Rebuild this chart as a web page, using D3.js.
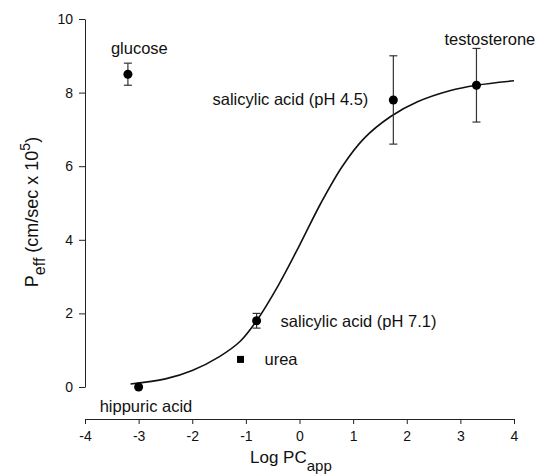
<!DOCTYPE html>
<html>
<head>
<meta charset="utf-8">
<script src="https://cdn.jsdelivr.net/npm/d3@7"></script>
<style>
  body { margin: 0; background: #fff; }
  text { font-family: "Liberation Sans", Arial, sans-serif; fill: #111; }
</style>
</head>
<body>
<div id="chart"></div>
<script>
var svgWidth = 549;
var svgHeight = 475;

// measured compounds: log PC_app, P_eff, error (+/-)
var names = ["glucose", "hippuric acid", "urea", "salicylic acid (pH 7.1)", "salicylic acid (pH 4.5)", "testosterone"];
var logPC = [-3.2, -3.0, -1.1, -0.8, 1.75, 3.3];
var peff = [8.5, 0.0, 0.75, 1.8, 7.8, 8.2];
var err = [0.3, 0, 0, 0.2, 1.2, 1.0];
var marker = ["circle", "circle", "square", "circle", "circle", "circle"];

// fitted curve
var curveX = [-3.15, -2.5, -2.0, -1.5, -1.1, -0.8, -0.4, 0.0, 0.4, 0.8, 1.2, 1.7, 2.2, 2.8, 3.3, 4.0];
var curveY = [0.08, 0.22, 0.45, 0.82, 1.25, 1.8, 2.75, 3.85, 5.0, 6.0, 6.75, 7.35, 7.75, 8.05, 8.2, 8.32];

var xTicks = [-4, -3, -2, -1, 0, 1, 2, 3, 4];
var yTicks = [0, 2, 4, 6, 8, 10];

var svg = d3.select("#chart")
  .append("svg")
  .attr("width", svgWidth)
  .attr("height", svgHeight);

var xScale = d3.scaleLinear().domain([-4, 4]).range([85, 514]);
var yScale = d3.scaleLinear().domain([0, 10]).range([387, 19]);

// axes
svg.append("g")
  .attr("transform", "translate(0,419)")
  .call(d3.axisBottom(xScale).tickValues(xTicks).tickSize(5).tickSizeOuter(0)
    .tickPadding(7).tickFormat(d => String(d)));

svg.append("g")
  .attr("transform", "translate(85,0)")
  .call(d3.axisLeft(yScale).tickValues(yTicks).tickSize(6).tickSizeOuter(0)
    .tickPadding(6).tickFormat(d => String(d)));

svg.selectAll(".tick text")
  .attr("font-size", "14px")
  .attr("font-family", "Liberation Sans, Arial, sans-serif")
  .attr("fill", "#111");
svg.selectAll(".domain, .tick line").attr("stroke", "#222");

// fitted curve
var pts = curveX.map((x, i) => [x, curveY[i]]);
svg.append("path")
  .datum(pts)
  .attr("fill", "none")
  .attr("stroke", "#111")
  .attr("stroke-width", 1.6)
  .attr("d", d3.line().x(d => xScale(d[0])).y(d => yScale(d[1])).curve(d3.curveCatmullRom.alpha(0.5)));

var data = names.map((n, i) => ({ name: n, x: logPC[i], y: peff[i], e: err[i], m: marker[i] }));

// error bars
var bars = svg.selectAll(".err")
  .data(data.filter(d => d.e > 0))
  .enter()
  .append("g")
  .attr("stroke", "#333")
  .attr("stroke-width", 1.2);

bars.append("line")
  .attr("x1", d => xScale(d.x)).attr("x2", d => xScale(d.x))
  .attr("y1", d => yScale(d.y - d.e)).attr("y2", d => yScale(d.y + d.e));
bars.append("line")
  .attr("x1", d => xScale(d.x) - 4).attr("x2", d => xScale(d.x) + 4)
  .attr("y1", d => yScale(d.y - d.e)).attr("y2", d => yScale(d.y - d.e));
bars.append("line")
  .attr("x1", d => xScale(d.x) - 4).attr("x2", d => xScale(d.x) + 4)
  .attr("y1", d => yScale(d.y + d.e)).attr("y2", d => yScale(d.y + d.e));

// points
svg.selectAll(".pt")
  .data(data.filter(d => d.m == "circle"))
  .enter()
  .append("circle")
  .attr("cx", d => xScale(d.x))
  .attr("cy", d => yScale(d.y))
  .attr("r", 4.5)
  .attr("fill", "#000");

svg.selectAll(".sq")
  .data(data.filter(d => d.m == "square"))
  .enter()
  .append("rect")
  .attr("x", d => xScale(d.x) - 3.5)
  .attr("y", d => yScale(d.y) - 3.5)
  .attr("width", 7)
  .attr("height", 7)
  .attr("fill", "#000");

// point labels (offsets relative to each point)
var labelPos = {
  "glucose": [-17, -20, "start"],
  "hippuric acid": [-39, 25, "start"],
  "urea": [24, 6, "start"],
  "salicylic acid (pH 7.1)": [24, 6, "start"],
  "salicylic acid (pH 4.5)": [-25, 5, "end"],
  "testosterone": [-32, -40, "start"]
};

svg.selectAll(".lbl")
  .data(data)
  .enter()
  .append("text")
  .attr("x", d => xScale(d.x) + labelPos[d.name][0])
  .attr("y", d => yScale(d.y) + labelPos[d.name][1])
  .attr("text-anchor", d => labelPos[d.name][2])
  .attr("font-size", "16.5px")
  .text(d => d.name);

// axis titles
var xt = svg.append("text")
  .attr("x", 250)
  .attr("y", 463)
  .attr("font-size", "17px");
xt.append("tspan").text("Log PC");
xt.append("tspan").attr("dy", 8).attr("font-size", "15px").text("app");

var yt = svg.append("text")
  .attr("transform", "translate(38,212) rotate(-90)")
  .attr("text-anchor", "middle")
  .attr("font-size", "18px");
yt.append("tspan").text("P");
yt.append("tspan").attr("dy", 7).attr("font-size", "16px").text("eff");
yt.append("tspan").attr("dy", -7).text(" (cm/sec x 10");
yt.append("tspan").attr("dy", -8).attr("font-size", "14px").text("5");
yt.append("tspan").attr("dy", 8).text(")");
</script>
</body>
</html>
